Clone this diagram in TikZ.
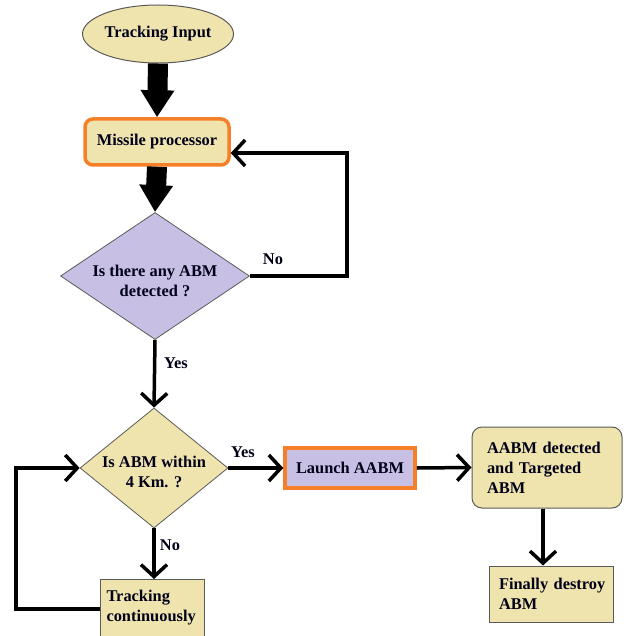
\documentclass[tikz,border=0pt]{standalone}
\usepackage{fontspec}
\setmainfont{Liberation Serif}
\usetikzlibrary{shapes.geometric,arrows.meta,calc}
\definecolor{beige}{RGB}{239,228,173}
\definecolor{lav}{RGB}{200,192,228}
\definecolor{orng}{RGB}{245,128,40}
\definecolor{edge}{RGB}{90,90,90}
\begin{document}
\begin{tikzpicture}[x=1pt,y=-1pt,
  every node/.style={font=\fontsize{16.4}{20}\selectfont\bfseries, text=black!90!blue},
  ell/.style={ellipse, draw=edge, line width=1pt, fill=beige, minimum width=136pt, minimum height=58pt, inner sep=0pt},
  proc/.style={rectangle, draw=orng, line width=3.5pt, fill=beige, inner sep=0pt},
  dia/.style={diamond, draw=edge, line width=0.8pt, inner sep=0pt},
  plain/.style={rectangle, draw=edge, line width=1pt, fill=beige, align=left},
  txt/.style={align=center, inner sep=0pt},
  lbl/.style={inner sep=0pt},
  big/.style={line width=20pt, -{Triangle[length=27pt,width=32pt]}},
  arr/.style={line width=3.5pt, -{Straight Barb[length=12pt,width=26pt]}},
  ln/.style={line width=3.5pt}
]
\clip (0,0) rectangle (625,636);
\fill[white] (0,0) rectangle (625,636);

\node[ell] (in) at (158,34) {Tracking Input};
\node[proc, rounded corners=8pt, minimum width=144pt, minimum height=46pt] (mp) at (157,142) {Missile processor};
\node[dia, fill=lav, minimum width=189pt, minimum height=127pt] (d1) at (155,276) {};
\node[txt] (d1t) at (155,281) {Is there any ABM\\detected ?};
\node[dia, fill=beige, minimum width=148pt, minimum height=120pt] (d2) at (154,468) {};
\node[txt] (d2t) at (154,472) {Is ABM within\\4 Km. ?};
\node[proc, fill=lav, minimum width=130pt, minimum height=40pt] (la) at (350,468) {Launch AABM};
\node[plain, rounded corners=10pt, text width=120pt, inner xsep=15pt, inner ysep=6pt, minimum height=81pt] (ab) at (547,467.5) {AABM detected\\and Targeted\\ABM};
\node[plain, text width=114pt, inner xsep=5pt, inner ysep=6pt, minimum height=56pt] (fd) at (551,594) {\hspace*{5pt}Finally destroy\\\hspace*{5pt}ABM};
\node[plain, anchor=north west, text width=92pt, inner xsep=6pt, inner ysep=11pt, text depth=40pt] (tc) at (100,579) {Tracking\\continuously};

\draw[big] (in.south) -- (mp.north);
\draw[big] (mp.south) -- (d1.north);

\coordinate (nr) at (347,276);
\draw[arr] (d1.east) -- (nr) |- ($(mp.east)+(0,11)$);
\node[lbl] (no1) at (273,259) {No};

\draw[arr] (d1.south) -- (d2.north);
\node[lbl] (yes1) at (176,363) {Yes};

\draw[arr] (d2.east) -- (la.west);
\node[lbl] (yes2) at (243,452) {Yes};

\draw[arr] (la.east) -- (ab.west);
\draw[arr] (ab.south -| 543,0) -- (543,0 |- fd.north);

\draw[arr] (d2.south) -- (tc.north -| d2.south);
\node[lbl] (no2) at (170,545) {No};

\coordinate (lp) at (16,468);
\draw[arr] ($(tc.north west)+(0,30)$) -| (lp) -- (d2.west);
\end{tikzpicture}
\end{document}
